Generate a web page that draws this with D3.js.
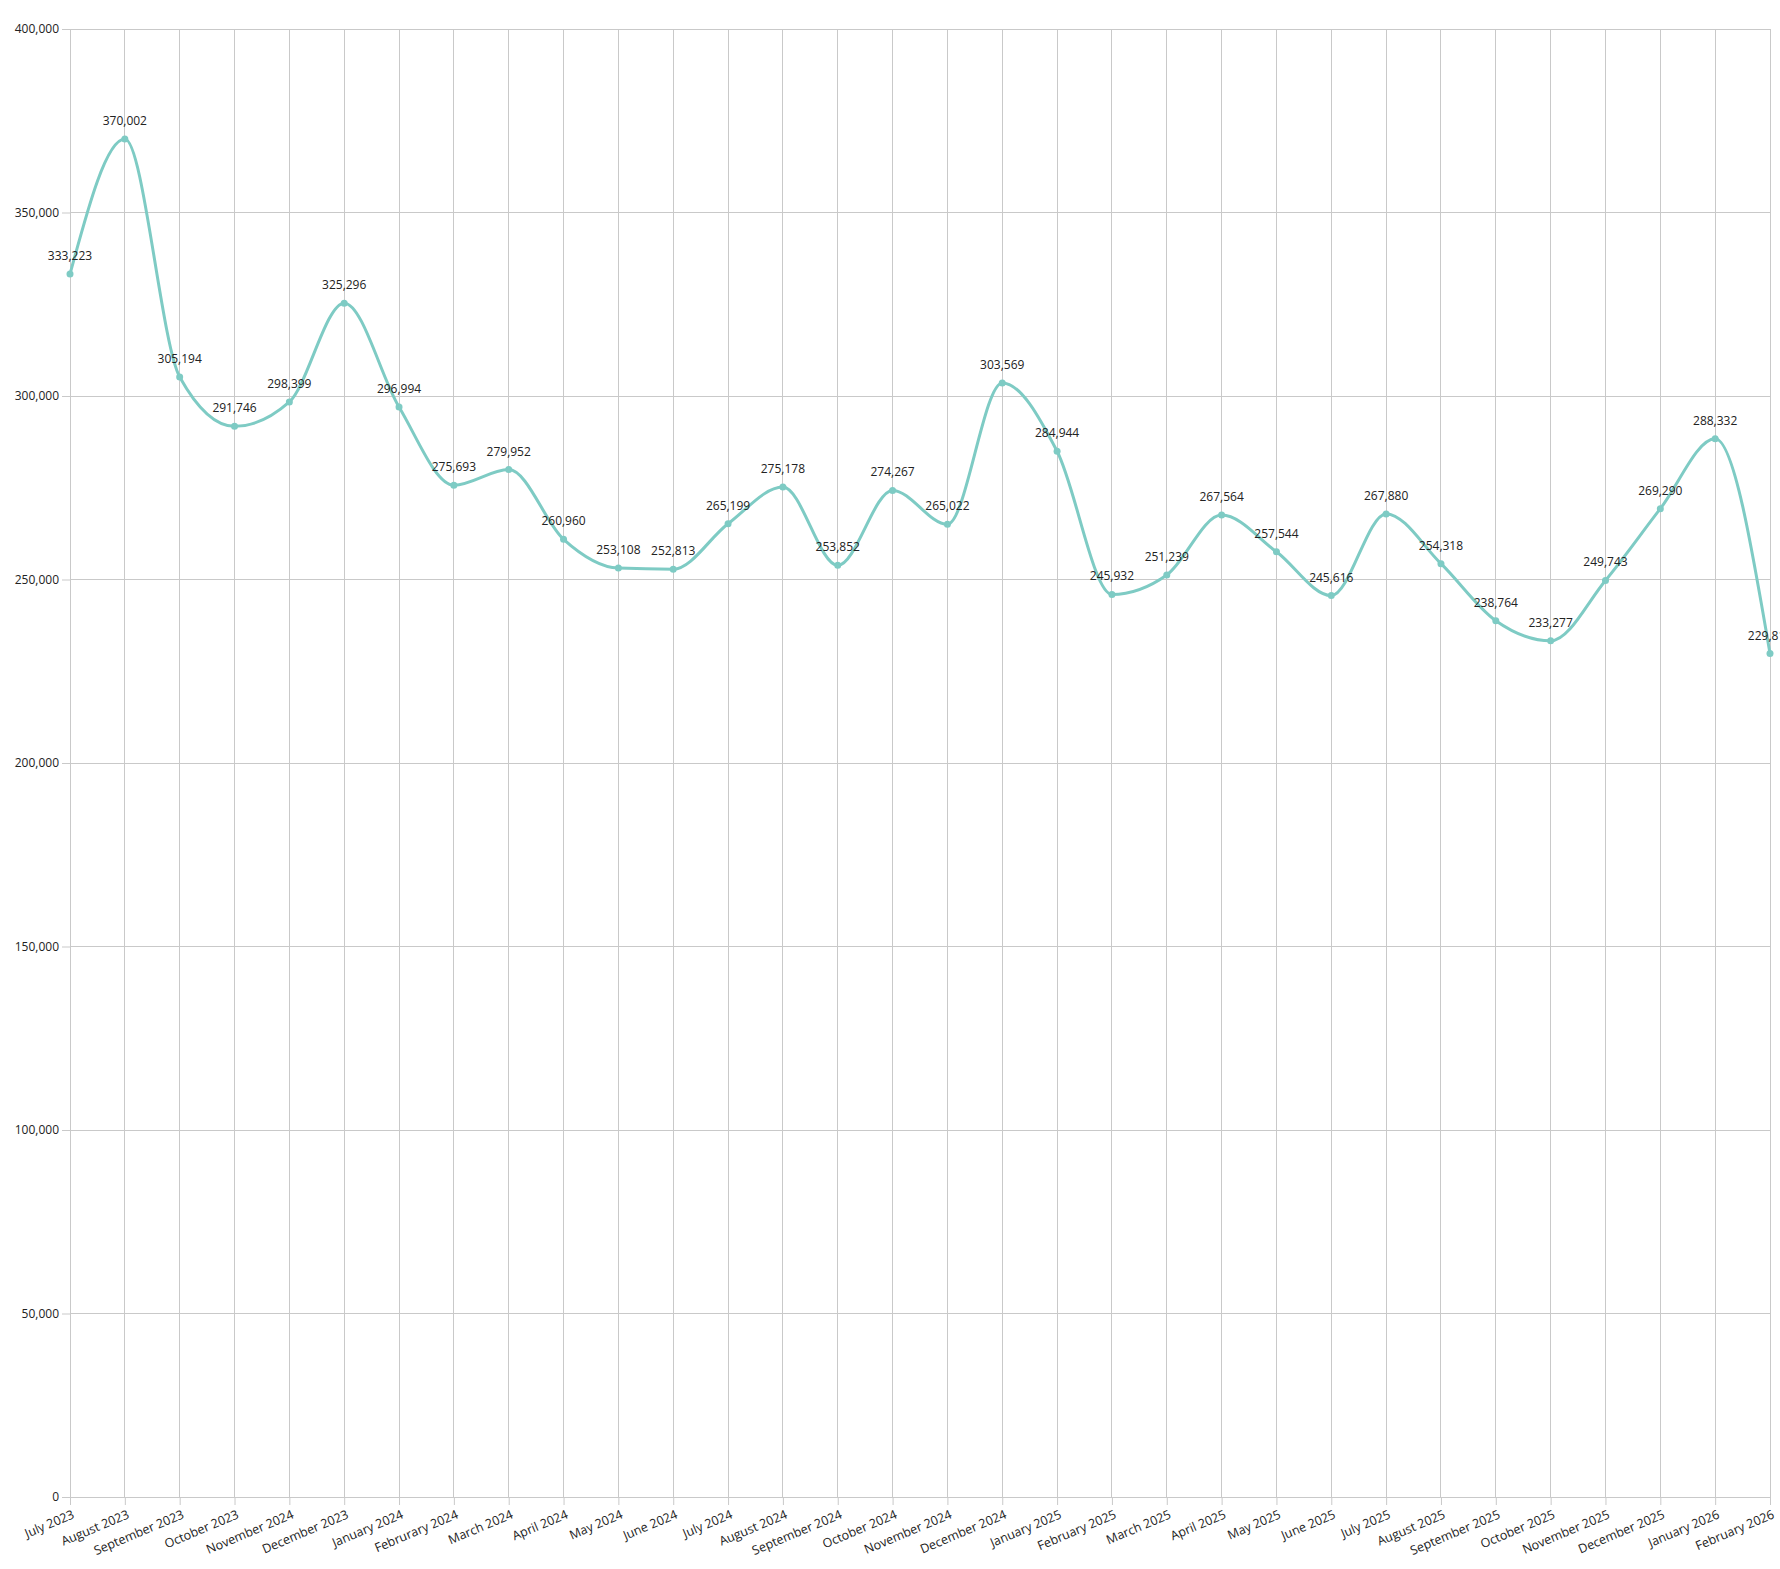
<!DOCTYPE html>
<html>
<head>
<meta charset="utf-8">
<script src="https://cdn.jsdelivr.net/npm/d3@7"></script>
<style>
  html, body { margin: 0; padding: 0; background: #fff; overflow: hidden; }
  text { font-family: "Open Sans", "Noto Sans", sans-serif; }
</style>
</head>
<body>
<svg id="chart" width="1780" height="1569"></svg>
<script>
const categories = [
  "July 2023", "August 2023", "September 2023", "October 2023", "November 2024",
  "December 2023", "January 2024", "Februrary 2024", "March 2024", "April 2024",
  "May 2024", "June 2024", "July 2024", "August 2024", "September 2024",
  "October 2024", "November 2024 ", "December 2024", "January 2025", "February 2025",
  "March 2025", "April 2025", "May 2025", "June 2025", "July 2025",
  "August 2025", "September 2025", "October 2025", "November 2025", "December 2025",
  "January 2026", "February 2026"
];
const values = [
  333223, 370002, 305194, 291746, 298399,
  325296, 296994, 275693, 279952, 260960,
  253108, 252813, 265199, 275178, 253852,
  274267, 265022, 303569, 284944, 245932,
  251239, 267564, 257544, 245616, 267880,
  254318, 238764, 233277, 249743, 269290,
  288332, 229812
];
const yTicks = [0, 50000, 100000, 150000, 200000, 250000, 300000, 350000, 400000];

const W = 1780, H = 1569;
const margin = { left: 70, right: 10, top: 29, bottom: 72 };
const svg = d3.select("#chart");

const x = d3.scalePoint().domain(categories).range([margin.left, W - margin.right]);
const y = d3.scaleLinear().domain([0, 400000]).range([H - margin.bottom, margin.top]);
const fmt = d3.format(",");
const grid = "#c9c9c9";
const lineColor = "#7ecbc4";
const textColor = "#222";

// horizontal gridlines
svg.append("g").selectAll("line").data(yTicks).join("line")
  .attr("x1", margin.left).attr("x2", W - margin.right)
  .attr("y1", d => y(d)).attr("y2", d => y(d))
  .attr("stroke", grid).attr("stroke-width", 1).attr("shape-rendering", "crispEdges");

// vertical gridlines
svg.append("g").selectAll("line").data(categories).join("line")
  .attr("x1", d => x(d)).attr("x2", d => x(d))
  .attr("y1", margin.top).attr("y2", H - margin.bottom)
  .attr("stroke", grid).attr("stroke-width", 1).attr("shape-rendering", "crispEdges");

// y axis
const yAxis = svg.append("g")
  .attr("transform", `translate(${margin.left},0)`)
  .call(d3.axisLeft(y).tickValues(yTicks).tickFormat(fmt).tickSize(8).tickPadding(3));
yAxis.select(".domain").attr("stroke", grid);
yAxis.selectAll(".tick line").attr("stroke", grid);
yAxis.selectAll(".tick text").attr("fill", textColor).style("font-size", "12px");

// x axis
const xAxis = svg.append("g")
  .attr("transform", `translate(0,${H - margin.bottom})`)
  .call(d3.axisBottom(x).tickSize(8).tickPadding(0));
xAxis.select(".domain").attr("stroke", grid);
xAxis.selectAll(".tick line").attr("stroke", grid);
xAxis.selectAll(".tick text")
  .attr("fill", textColor).style("font-size", "12.5px")
  .attr("text-anchor", "end")
  .attr("y", 0)
  .attr("dy", "0.75em")
  .attr("transform", "translate(1,12) rotate(-23)");

// line
const line = d3.line()
  .x((d, i) => x(categories[i]))
  .y(d => y(d))
  .curve(d3.curveMonotoneX);
svg.append("path").datum(values).attr("d", line)
  .attr("fill", "none").attr("stroke", lineColor).attr("stroke-width", 3);

// points
svg.append("g").selectAll("circle").data(values).join("circle")
  .attr("cx", (d, i) => x(categories[i])).attr("cy", d => y(d))
  .attr("r", 3.5).attr("fill", lineColor);

// data labels
svg.append("g").selectAll("text").data(values).join("text")
  .attr("x", (d, i) => x(categories[i])).attr("y", d => y(d) - 14)
  .attr("text-anchor", "middle").attr("fill", textColor)
  .style("font-size", "12px")
  .text(d => fmt(d));
</script>
</body>
</html>
